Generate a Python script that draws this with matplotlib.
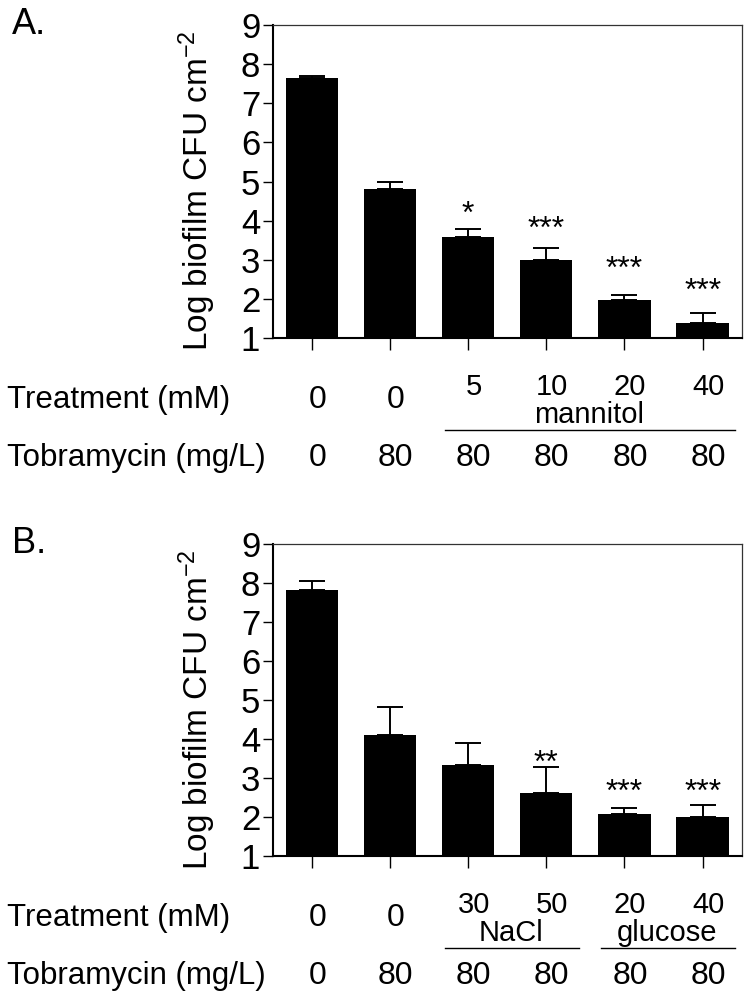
import matplotlib
matplotlib.use("Agg")
import matplotlib.pyplot as plt
import numpy as np

plt.rcParams['font.family'] = ['Liberation Sans', 'DejaVu Sans']
plt.rcParams['mathtext.fontset'] = 'custom'
plt.rcParams['mathtext.rm'] = 'Liberation Sans'
plt.rcParams['mathtext.it'] = 'Liberation Sans'
plt.rcParams['mathtext.default'] = 'regular'

# ---------------- data ----------------
a_means = [7.65, 4.80, 3.59, 2.99, 1.96, 1.38]
a_err = [0.04, 0.18, 0.20, 0.30, 0.13, 0.25]
a_stars = ["", "", "*", "***", "***", "***"]
a_star_y = [None, None, 4.38, 4.01, 2.99, 2.43]
a_treat = ["0", "0", "5", "10", "20", "40"]
a_tobra = ["0", "80", "80", "80", "80", "80"]
a_groups = [("mannitol", 2, 5)]

b_means = [7.82, 4.10, 3.34, 2.61, 2.08, 2.00]
b_err = [0.24, 0.73, 0.57, 0.66, 0.16, 0.30]
b_stars = ["", "", "", "**", "***", "***"]
b_star_y = [None, None, None, 3.59, 2.85, 2.85]
b_treat = ["0", "0", "30", "50", "20", "40"]
b_tobra = ["0", "80", "80", "80", "80", "80"]
b_groups = [("NaCl", 2, 3), ("glucose", 4, 5)]

yticks = [1, 2, 3, 4, 5, 6, 7, 8, 9]
ylabel = "Log biofilm CFU cm$^{-2}$"

fig = plt.figure(figsize=(7.5, 10), dpi=100)

AX_H = 313.0  # axes height in px


def fr(px):
    return -px / AX_H


def panel(rect, means, err, stars, star_y, treat, tobra, groups, letter, letter_y):
    ax = fig.add_axes(rect)
    x = np.arange(len(means))
    ax.bar(x, means, width=0.67, color='black', bottom=0, zorder=2)
    ax.errorbar(x, means, yerr=[np.zeros(len(err)), err], fmt='none',
                ecolor='black', elinewidth=1.4, capsize=9.5, capthick=1.4, zorder=3)
    ax.set_xlim(-0.5, 5.5)
    ax.set_ylim(1, 9)
    ax.set_yticks(yticks)
    ax.set_xticks(x)
    ax.set_xticklabels([])
    ax.tick_params(axis='y', direction='out', length=7.5, width=1.0, labelsize=25, pad=1.5)
    ax.tick_params(axis='x', direction='out', length=8.5, width=1.0)
    for s in ['left', 'bottom']:
        ax.spines[s].set_linewidth(1.5)
    for s in ['top', 'right']:
        ax.spines[s].set_linewidth(0.9)
        ax.spines[s].set_color('#333333')
    ax.set_ylabel(ylabel, fontsize=24)
    ax.yaxis.set_label_coords(-0.117, 0.47)

    for xi, s, sy in zip(x, stars, star_y):
        if s:
            ax.annotate(s, (xi, sy), xytext=(0, -12.5), textcoords='offset points',
                        ha='center', va='baseline', fontsize=23)

    tr = ax.get_xaxis_transform()
    for xi, t in zip(x, treat):
        if any(g[1] <= xi <= g[2] for g in groups):
            ax.text(xi + 0.07, fr(57), t, transform=tr, ha='center', va='baseline',
                    fontsize=21, clip_on=False)
        else:
            ax.text(xi + 0.07, fr(70), t, transform=tr, ha='center', va='baseline',
                    fontsize=23, clip_on=False)
    for xi, t in zip(x, tobra):
        ax.text(xi + 0.07, fr(128), t, transform=tr, ha='center', va='baseline',
                fontsize=23, clip_on=False)
    for name, g0, g1 in groups:
        ax.text((g0 + g1) / 2 + 0.05, fr(85), name, transform=tr, ha='center',
                va='baseline', fontsize=21, clip_on=False)
        ax.plot([g0 - 0.30, g1 + 0.42], [fr(92), fr(92)], transform=tr,
                color='black', lw=1.0, clip_on=False)

    # row labels (figure coords)
    y0 = rect[1]
    fig.text(7 / 750, y0 - 70 / 1000, "Treatment (mM)", ha='left', va='baseline', fontsize=22.5)
    fig.text(7 / 750, y0 - 128 / 1000, "Tobramycin (mg/L)", ha='left', va='baseline', fontsize=22.5)
    fig.text(12 / 750, letter_y, letter, ha='left', va='baseline', fontsize=26)
    return ax


axA = panel([272.7 / 750, 1 - 338 / 1000, 469 / 750, 313 / 1000],
            a_means, a_err, a_stars, a_star_y, a_treat, a_tobra, a_groups, "A.", 1 - 34 / 1000)
axB = panel([272.7 / 750, 1 - 856 / 1000, 469 / 750, 312 / 1000],
            b_means, b_err, b_stars, b_star_y, b_treat, b_tobra, b_groups, "B.", 1 - 553 / 1000)

fig.savefig("out.png", dpi=100, facecolor='white')
